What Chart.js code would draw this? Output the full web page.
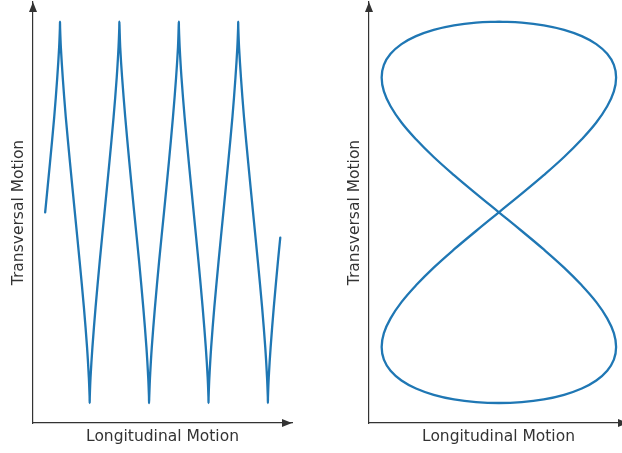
<!DOCTYPE html>
<html>
<head>
<meta charset="utf-8">
<script src="https://cdn.jsdelivr.net/npm/chart.js@4.4.1/dist/chart.umd.min.js"></script>
<style>
  html, body { margin: 0; padding: 0; background: #fff; }
  body { width: 622px; height: 453px; position: relative; overflow: hidden; }
  .panel { position: absolute; top: 0; height: 453px; }
  #left { left: 0; width: 311px; }
  #right { left: 336px; width: 292px; }
</style>
</head>
<body>
<div class="panel" id="left"><canvas id="driftChart"></canvas></div>
<div class="panel" id="right"><canvas id="orbitChart"></canvas></div>
<script>
// particle path with drift: longitudinal (x) vs transversal (y)
const driftX = [
  -1.57, -1.06, -0.61, -0.29, -0.09, -0.01, 0.00,
  0.01, 0.09, 0.29, 0.61, 1.06, 1.57, 2.08, 2.53, 2.86, 3.05, 3.13, 3.14,
  3.15, 3.23, 3.43, 3.76, 4.20, 4.71, 5.22, 5.67, 6.00, 6.19, 6.27, 6.28,
  6.30, 6.37, 6.57, 6.90, 7.34, 7.85, 8.37, 8.81, 9.14, 9.33, 9.41, 9.42,
  9.44, 9.52, 9.71, 10.04, 10.48, 11.00, 11.51, 11.95, 12.28, 12.48, 12.55, 12.57,
  12.58, 12.66, 12.85, 13.18, 13.63, 14.14, 14.65, 15.09, 15.42, 15.62, 15.70, 15.71,
  15.72, 15.80, 15.99, 16.32, 16.77, 17.28, 17.79, 18.24, 18.56, 18.76, 18.84, 18.85,
  18.86, 18.94, 19.14, 19.46, 19.91, 20.42, 20.93, 21.38, 21.71, 21.90, 21.98, 21.99,
  22.00, 22.08, 22.28, 22.61, 23.05, 23.30
];
const driftY = [
  0, 0.259, 0.5, 0.707, 0.866, 0.966, 1,
  0.966, 0.866, 0.707, 0.5, 0.259, 0, -0.259, -0.5, -0.707, -0.866, -0.966, -1,
  -0.966, -0.866, -0.707, -0.5, -0.259, 0, 0.259, 0.5, 0.707, 0.866, 0.966, 1,
  0.966, 0.866, 0.707, 0.5, 0.259, 0, -0.259, -0.5, -0.707, -0.866, -0.966, -1,
  -0.966, -0.866, -0.707, -0.5, -0.259, 0, 0.259, 0.5, 0.707, 0.866, 0.966, 1,
  0.966, 0.866, 0.707, 0.5, 0.259, 0, -0.259, -0.5, -0.707, -0.866, -0.966, -1,
  -0.966, -0.866, -0.707, -0.5, -0.259, 0, 0.259, 0.5, 0.707, 0.866, 0.966, 1,
  0.966, 0.866, 0.707, 0.5, 0.259, 0, -0.259, -0.5, -0.707, -0.866, -0.966, -1,
  -0.966, -0.866, -0.707, -0.5, -0.259, -0.133
];

// closed figure-eight orbit
const orbitX = [
  0, 0.195, 0.383, 0.556, 0.707, 0.831, 0.924, 0.981, 1,
  0.981, 0.924, 0.831, 0.707, 0.556, 0.383, 0.195, 0,
  -0.195, -0.383, -0.556, -0.707, -0.831, -0.924, -0.981, -1,
  -0.981, -0.924, -0.831, -0.707, -0.556, -0.383, -0.195, 0,
  0.195, 0.383, 0.556, 0.707, 0.831, 0.924, 0.981, 1,
  0.981, 0.924, 0.831, 0.707, 0.556, 0.383, 0.195, 0,
  -0.195, -0.383, -0.556, -0.707, -0.831, -0.924, -0.981, -1,
  -0.981, -0.924, -0.831, -0.707, -0.556, -0.383, -0.195, 0
];
const orbitY = [
  1, 0.995, 0.981, 0.957, 0.924, 0.882, 0.831, 0.773, 0.707,
  0.634, 0.556, 0.471, 0.383, 0.290, 0.195, 0.098, 0,
  -0.098, -0.195, -0.290, -0.383, -0.471, -0.556, -0.634, -0.707,
  -0.773, -0.831, -0.882, -0.924, -0.957, -0.981, -0.995, -1,
  -0.995, -0.981, -0.957, -0.924, -0.882, -0.831, -0.773, -0.707,
  -0.634, -0.556, -0.471, -0.383, -0.290, -0.195, -0.098, 0,
  0.098, 0.195, 0.290, 0.383, 0.471, 0.556, 0.634, 0.707,
  0.773, 0.831, 0.882, 0.924, 0.957, 0.981, 0.995, 1
];

const xLabel = 'Longitudinal Motion';
const yLabel = 'Transversal Motion';

const lineColor = '#1f77b4';
const axisColor = '#333333';
const textFont = { family: 'DejaVu Sans', size: 15.5 };

// arrow heads at the end of both axes
const axisArrows = {
  id: 'axisArrows',
  afterDraw(chart) {
    const { ctx, chartArea: a } = chart;
    ctx.save();
    ctx.fillStyle = axisColor;
    ctx.beginPath();
    ctx.moveTo(a.left, a.top);
    ctx.lineTo(a.left - 4, a.top + 10);
    ctx.lineTo(a.left + 4, a.top + 10);
    ctx.closePath();
    ctx.fill();
    ctx.beginPath();
    ctx.moveTo(a.right, a.bottom);
    ctx.lineTo(a.right - 10, a.bottom - 4);
    ctx.lineTo(a.right - 10, a.bottom + 4);
    ctx.closePath();
    ctx.fill();
    ctx.restore();
  }
};

function makeScales(xMin, xMax) {
  const common = {
    type: 'linear',
    grid: { display: false, drawTicks: false },
    ticks: { display: false },
    border: { display: true, color: axisColor, width: 1.2 }
  };
  return {
    x: Object.assign({}, common, {
      min: xMin, max: xMax,
      title: { display: true, text: xLabel, color: axisColor, font: textFont, padding: { top: 0, bottom: 7 } },
      afterFit(s) { s.height = 30; }
    }),
    y: Object.assign({}, common, {
      min: -1.105, max: 1.103,
      title: { display: true, text: yLabel, color: axisColor, font: textFont, padding: { top: 10, bottom: 0 } },
      afterFit(s) { s.width = 33; }
    })
  };
}

function makeChart(id, xs, ys, xMin, xMax, padRight, tension, cap) {
  new Chart(document.getElementById(id), {
    type: 'scatter',
    data: {
      datasets: [{
        data: xs.map((x, i) => ({ x: x, y: ys[i] })),
        showLine: true,
        borderColor: lineColor,
        borderWidth: 2.3,
        borderJoinStyle: 'round',
        borderCapStyle: cap,
        pointRadius: 0,
        tension: tension
      }]
    },
    options: {
      responsive: true,
      maintainAspectRatio: false,
      animation: false,
      devicePixelRatio: 1,
      layout: { padding: { left: 0, right: padRight, top: 2, bottom: 0 } },
      plugins: { legend: { display: false }, tooltip: { enabled: false } },
      scales: makeScales(xMin, xMax)
    },
    plugins: [axisArrows]
  });
}

makeChart('driftChart', driftX, driftY, -2.856, 24.54, 19, 0.3, 'round');
makeChart('orbitChart', orbitX, orbitY, -1.108, 1.1015, 0, 0.4, 'butt');
</script>
</body>
</html>
